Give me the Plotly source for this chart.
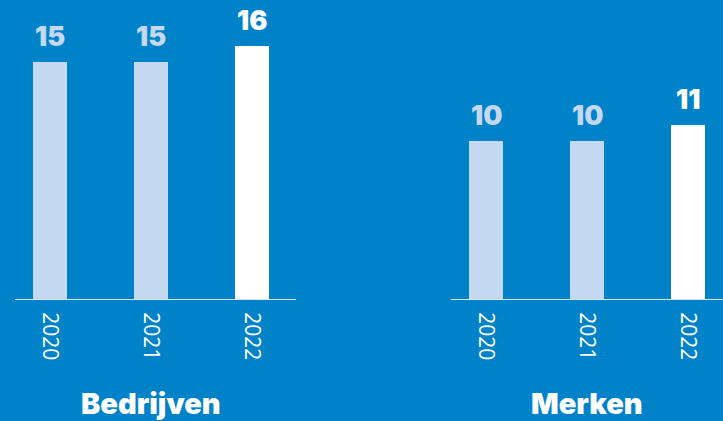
import plotly.graph_objects as go

years = ["2020", "2021", "2022"]
bedrijven = [15, 15, 16]
merken = [10, 10, 11]
titles = ["Bedrijven", "Merken"]

BG = "#0082C8"
LIGHT = "#C5D8F1"
WHITE = "#FFFFFF"
bar_colors = [LIGHT, LIGHT, WHITE]

fig = go.Figure()
fig.add_trace(go.Bar(x=years, y=bedrijven, marker=dict(color=bar_colors, line=dict(width=0)),
                     width=0.337, xaxis="x", yaxis="y", hoverinfo="skip"))
fig.add_trace(go.Bar(x=years, y=merken, marker=dict(color=bar_colors, line=dict(width=0)),
                     width=0.337, xaxis="x2", yaxis="y2", hoverinfo="skip"))

BOLD = "Inter, sans-serif"
annotations = []
for xa, ya, vals, title in [("x", "y", bedrijven, titles[0]), ("x2", "y2", merken, titles[1])]:
    for i, (v, c) in enumerate(zip(vals, bar_colors)):
        annotations.append(dict(x=i, y=v, xref=xa, yref=ya, text=str(v), showarrow=False,
                                yanchor="bottom", yshift=7,
                                font=dict(family=BOLD, size=27, color=c, weight=900)))
    annotations.append(dict(x=1, y=-0.351, xref=xa, yref="paper", text=title,
                            showarrow=False, yanchor="middle",
                            font=dict(family=BOLD, size=29, color=WHITE, weight=900)))

axis_common = dict(showgrid=False, zeroline=False, showline=True, linecolor="#D2E3F5", linewidth=1,
                   ticks="outside", ticklen=8, tickcolor=BG, tickangle=90,
                   tickfont=dict(family="Open Sans", size=21, color=WHITE), fixedrange=True)
yaxis_common = dict(range=[0, 18.91], visible=False, fixedrange=True)

fig.update_layout(
    width=723, height=421,
    margin=dict(l=0, r=0, t=0, b=122),
    paper_bgcolor=BG, plot_bgcolor=BG,
    showlegend=False,
    xaxis=dict(domain=[15 / 723, 296 / 723], range=[-0.347, 2.436], **axis_common),
    xaxis2=dict(domain=[451 / 723, 1.0], range=[-0.347, 2.347], **axis_common),
    yaxis=dict(anchor="x", **yaxis_common),
    yaxis2=dict(anchor="x2", **yaxis_common),
    annotations=annotations,
    bargap=0,
)

fig.write_html("out.html", config={"displayModeBar": False},
               post_script="document.body.style.margin='0';document.body.style.overflow='hidden';")
